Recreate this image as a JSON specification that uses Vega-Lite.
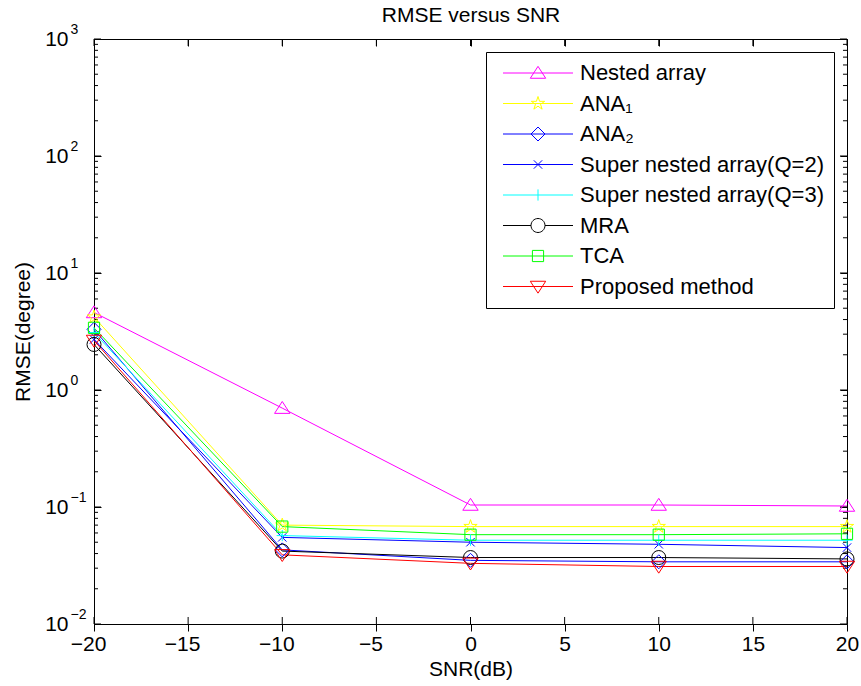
{
  "$schema": "https://vega.github.io/schema/vega-lite/v6.json",
  "width": 753,
  "height": 585,
  "autosize": {"type": "none"},
  "padding": {"left": 94, "top": 39, "right": 14, "bottom": 62},
  "background": "white",
  "config": {
    "font": "Liberation Sans",
    "view": {"stroke": "black", "strokeWidth": 1},
    "axis": {"grid": false, "domain": false, "labelColor": "black", "titleColor": "black", "labelFontSize": 21, "titleFontSize": 21, "titleFontWeight": "normal", "labelFont": "Liberation Sans", "titleFont": "Liberation Sans", "labelOverlap": false, "labelFlush": false, "minExtent": 0, "ticks": true, "tickColor": "#000000", "tickWidth": 1, "tickOpacity": 1},
    "point": {"filled": false, "size": 196, "strokeWidth": 1, "opacity": 1},
    "rule": {"color": "#000000", "strokeWidth": 1, "opacity": 1}
  },
  "datasets": {
    "xTicks": [{"v": -20}, {"v": -15}, {"v": -10}, {"v": -5}, {"v": 0}, {"v": 5}, {"v": 10}, {"v": 15}, {"v": 20}],
    "yMajor": [{"v": 0.01}, {"v": 0.1}, {"v": 1}, {"v": 10}, {"v": 100}, {"v": 1000}],
    "yMinor": [{"v": 0.02}, {"v": 0.03}, {"v": 0.04}, {"v": 0.05}, {"v": 0.06}, {"v": 0.07}, {"v": 0.08}, {"v": 0.09},
               {"v": 0.2}, {"v": 0.3}, {"v": 0.4}, {"v": 0.5}, {"v": 0.6}, {"v": 0.7}, {"v": 0.8}, {"v": 0.9},
               {"v": 2}, {"v": 3}, {"v": 4}, {"v": 5}, {"v": 6}, {"v": 7}, {"v": 8}, {"v": 9},
               {"v": 20}, {"v": 30}, {"v": 40}, {"v": 50}, {"v": 60}, {"v": 70}, {"v": 80}, {"v": 90},
               {"v": 200}, {"v": 300}, {"v": 400}, {"v": 500}, {"v": 600}, {"v": 700}, {"v": 800}, {"v": 900}]
  },
  "data": {"values": [
    {"snr": -20, "rmse": 4.6, "method": "Nested array"},
    {"snr": -10, "rmse": 0.70, "method": "Nested array"},
    {"snr": 0, "rmse": 0.104, "method": "Nested array"},
    {"snr": 10, "rmse": 0.104, "method": "Nested array"},
    {"snr": 20, "rmse": 0.102, "method": "Nested array"},
    {"snr": -20, "rmse": 4.2, "method": "ANA₁"},
    {"snr": -10, "rmse": 0.070, "method": "ANA₁"},
    {"snr": 0, "rmse": 0.068, "method": "ANA₁"},
    {"snr": 10, "rmse": 0.068, "method": "ANA₁"},
    {"snr": 20, "rmse": 0.068, "method": "ANA₁"},
    {"snr": -20, "rmse": 3.3, "method": "ANA₂"},
    {"snr": -10, "rmse": 0.043, "method": "ANA₂"},
    {"snr": 0, "rmse": 0.035, "method": "ANA₂"},
    {"snr": 10, "rmse": 0.034, "method": "ANA₂"},
    {"snr": 20, "rmse": 0.034, "method": "ANA₂"},
    {"snr": -20, "rmse": 2.7, "method": "Super nested array(Q=2)"},
    {"snr": -10, "rmse": 0.055, "method": "Super nested array(Q=2)"},
    {"snr": 0, "rmse": 0.050, "method": "Super nested array(Q=2)"},
    {"snr": 10, "rmse": 0.048, "method": "Super nested array(Q=2)"},
    {"snr": 20, "rmse": 0.045, "method": "Super nested array(Q=2)"},
    {"snr": -20, "rmse": 3.1, "method": "Super nested array(Q=3)"},
    {"snr": -10, "rmse": 0.057, "method": "Super nested array(Q=3)"},
    {"snr": 0, "rmse": 0.052, "method": "Super nested array(Q=3)"},
    {"snr": 10, "rmse": 0.052, "method": "Super nested array(Q=3)"},
    {"snr": 20, "rmse": 0.052, "method": "Super nested array(Q=3)"},
    {"snr": -20, "rmse": 2.45, "method": "MRA"},
    {"snr": -10, "rmse": 0.042, "method": "MRA"},
    {"snr": 0, "rmse": 0.037, "method": "MRA"},
    {"snr": 10, "rmse": 0.037, "method": "MRA"},
    {"snr": 20, "rmse": 0.036, "method": "MRA"},
    {"snr": -20, "rmse": 3.4, "method": "TCA"},
    {"snr": -10, "rmse": 0.068, "method": "TCA"},
    {"snr": 0, "rmse": 0.058, "method": "TCA"},
    {"snr": 10, "rmse": 0.058, "method": "TCA"},
    {"snr": 20, "rmse": 0.059, "method": "TCA"},
    {"snr": -20, "rmse": 2.65, "method": "Proposed method"},
    {"snr": -10, "rmse": 0.039, "method": "Proposed method"},
    {"snr": 0, "rmse": 0.033, "method": "Proposed method"},
    {"snr": 10, "rmse": 0.031, "method": "Proposed method"},
    {"snr": 20, "rmse": 0.031, "method": "Proposed method"}
  ]},
  "layer": [
    {
      "mark": {"type": "line", "strokeWidth": 1},
      "encoding": {
        "x": {"field": "snr", "type": "quantitative",
          "scale": {"domain": [-20, 20], "nice": false, "zero": false},
          "axis": {"orient": "bottom", "offset": 0, "values": [-20, -15, -10, -5, 0, 5, 10, 15, 20], "tickSize": 7, "labelPadding": 2, "format": "d",
            "labelOffset": {"condition": {"test": "datum.value < 0", "value": -6}, "value": 0},
            "title": "SNR(dB)", "titlePadding": 4}},
        "y": {"field": "rmse", "type": "quantitative",
          "scale": {"type": "log", "domain": [0.01, 1000], "nice": false},
          "axis": {"orient": "left", "offset": -7,
            "values": [0.01, 0.1, 1, 10, 100, 1000],
            "tickSize": 7,
            "labelExpr": "'10'",
            "labelPadding": 26,
            "title": "RMSE(degree)", "titlePadding": 11}},
        "color": {"field": "method", "type": "nominal",
          "scale": {"domain": ["Nested array", "ANA₁", "ANA₂", "Super nested array(Q=2)", "Super nested array(Q=3)", "MRA", "TCA", "Proposed method"],
                    "range": ["#FF00FF", "#FFFF00", "#0000FF", "#0000FF", "#00FFFF", "#000000", "#00FF00", "#FF0000"]},
          "legend": {"title": null, "orient": "top-right", "offset": 13, "padding": 10, "strokeColor": "black", "fillColor": "white", "cornerRadius": 0,
            "labelFontSize": 22, "labelFont": "Liberation Sans", "labelColor": "black", "labelLimit": 500,
            "symbolSize": 196, "symbolOffset": 31, "labelOffset": 31, "rowPadding": 8.5, "symbolStrokeWidth": 1, "symbolFillColor": "transparent"}}
      }
    },
    {
      "mark": {"type": "point", "opacity": 0},
      "encoding": {
        "x": {"field": "snr", "type": "quantitative",
          "scale": {"domain": [-20, 20], "nice": false, "zero": false},
          "axis": {"orient": "top", "offset": -7, "values": [-20, -15, -10, -5, 0, 5, 10, 15, 20], "tickSize": 7, "labels": false,
            "title": "RMSE versus SNR", "titlePadding": 17, "titleBaseline": "alphabetic", "titleFontSize": 21}},
        "y": {"field": "rmse", "type": "quantitative",
          "scale": {"type": "log", "domain": [0.01, 1000], "nice": false},
          "axis": {"orient": "right", "offset": -7, "values": [0.01, 0.1, 1, 10, 100, 1000], "tickSize": 7, "labels": false, "title": null}},
        "color": {"field": "method", "type": "nominal"},
        "shape": {"field": "method", "type": "nominal",
          "scale": {"domain": ["Nested array", "ANA₁", "ANA₂", "Super nested array(Q=2)", "Super nested array(Q=3)", "MRA", "TCA", "Proposed method"],
                    "range": ["M-5,0L5,0M0,-0.95L1.1,0.75L-1.1,0.75Z", "M-5,0L5,0M0,-1L0.2245,-0.309L0.951,-0.309L0.363,0.118L0.588,0.809L0,0.382L-0.588,0.809L-0.363,0.118L-0.951,-0.309L-0.2245,-0.309Z", "M-5,0L5,0M0,-1L1,0L0,1L-1,0Z", "M-5,0L5,0M-0.6,-0.6L0.6,0.6M-0.6,0.6L0.6,-0.6", "M-5,0L5,0M0,-0.8L0,0.8", "M-5,0L-1,0M1,0L5,0M1,0A1,1,0,1,1,-1,0A1,1,0,1,1,1,0Z", "M-5,0L5,0M-0.8,-0.8L0.8,-0.8L0.8,0.8L-0.8,0.8Z", "M-5,0L5,0M0,0.95L1.1,-0.75L-1.1,-0.75Z"]}}
      }
    },
    {
      "mark": {"type": "point", "opacity": 0},
      "encoding": {
        "y": {"field": "rmse", "type": "quantitative",
          "scale": {"type": "log", "domain": [0.01, 1000], "nice": false},
          "axis": {"orient": "left", "offset": -4,
            "values": [0.01, 0.1, 1, 10, 100, 1000],
            "tickSize": 4, "tickOpacity": 0,
            "labelExpr": "datum.value===0.01?'−2':datum.value===0.1?'−1':datum.value===1?'0':datum.value===10?'1':datum.value===100?'2':datum.value===1000?'3':''",
            "labelAlign": "left", "labelFontSize": 14, "labelPadding": 24, "labelOffset": -10,
            "title": null}}
      }
    },
    {"data": {"name": "xTicks"},
     "mark": {"type": "rule"},
     "encoding": {"x": {"field": "v", "type": "quantitative", "scale": {"domain": [-20, 20], "nice": false, "zero": false}, "axis": null},
                  "y": {"datum": 0.01, "type": "quantitative", "scale": {"type": "log", "domain": [0.01, 1000], "nice": false}, "axis": null},
                  "y2": {"datum": 0.01148}}},
    {"data": {"name": "xTicks"},
     "mark": {"type": "rule"},
     "encoding": {"x": {"field": "v", "type": "quantitative", "scale": {"domain": [-20, 20], "nice": false, "zero": false}, "axis": null},
                  "y": {"datum": 1000, "type": "quantitative", "scale": {"type": "log", "domain": [0.01, 1000], "nice": false}, "axis": null},
                  "y2": {"datum": 871.2}}},
    {"data": {"name": "yMajor"},
     "mark": {"type": "rule"},
     "encoding": {"y": {"field": "v", "type": "quantitative", "scale": {"type": "log", "domain": [0.01, 1000], "nice": false}, "axis": null},
                  "x": {"datum": -20, "type": "quantitative", "scale": {"domain": [-20, 20], "nice": false, "zero": false}, "axis": null},
                  "x2": {"datum": -19.628}}},
    {"data": {"name": "yMajor"},
     "mark": {"type": "rule"},
     "encoding": {"y": {"field": "v", "type": "quantitative", "scale": {"type": "log", "domain": [0.01, 1000], "nice": false}, "axis": null},
                  "x": {"datum": 20, "type": "quantitative", "scale": {"domain": [-20, 20], "nice": false, "zero": false}, "axis": null},
                  "x2": {"datum": 19.628}}},
    {"data": {"name": "yMinor"},
     "mark": {"type": "rule"},
     "encoding": {"y": {"field": "v", "type": "quantitative", "scale": {"type": "log", "domain": [0.01, 1000], "nice": false}, "axis": null},
                  "x": {"datum": -20, "type": "quantitative", "scale": {"domain": [-20, 20], "nice": false, "zero": false}, "axis": null},
                  "x2": {"datum": -19.7875}}},
    {"data": {"name": "yMinor"},
     "mark": {"type": "rule"},
     "encoding": {"y": {"field": "v", "type": "quantitative", "scale": {"type": "log", "domain": [0.01, 1000], "nice": false}, "axis": null},
                  "x": {"datum": 20, "type": "quantitative", "scale": {"domain": [-20, 20], "nice": false, "zero": false}, "axis": null},
                  "x2": {"datum": 19.7875}}},
    {"transform": [{"filter": "datum.method === 'Nested array'"}],
     "mark": {"type": "point", "shape": "M0,-0.95L1.1,0.75L-1.1,0.75Z", "color": "#FF00FF"},
     "encoding": {"x": {"field": "snr", "type": "quantitative", "scale": {"domain": [-20, 20], "nice": false, "zero": false}, "axis": null},
                  "y": {"field": "rmse", "type": "quantitative", "scale": {"type": "log", "domain": [0.01, 1000], "nice": false}, "axis": null}}},
    {"transform": [{"filter": "datum.method === 'ANA₁'"}],
     "mark": {"type": "point", "shape": "M0,-1L0.2245,-0.309L0.951,-0.309L0.363,0.118L0.588,0.809L0,0.382L-0.588,0.809L-0.363,0.118L-0.951,-0.309L-0.2245,-0.309Z", "color": "#FFFF00"},
     "encoding": {"x": {"field": "snr", "type": "quantitative", "scale": {"domain": [-20, 20], "nice": false, "zero": false}, "axis": null},
                  "y": {"field": "rmse", "type": "quantitative", "scale": {"type": "log", "domain": [0.01, 1000], "nice": false}, "axis": null}}},
    {"transform": [{"filter": "datum.method === 'ANA₂'"}],
     "mark": {"type": "point", "shape": "M0,-1L1,0L0,1L-1,0Z", "color": "#0000FF"},
     "encoding": {"x": {"field": "snr", "type": "quantitative", "scale": {"domain": [-20, 20], "nice": false, "zero": false}, "axis": null},
                  "y": {"field": "rmse", "type": "quantitative", "scale": {"type": "log", "domain": [0.01, 1000], "nice": false}, "axis": null}}},
    {"transform": [{"filter": "datum.method === 'Super nested array(Q=2)'"}],
     "mark": {"type": "point", "shape": "M-0.6,-0.6L0.6,0.6M-0.6,0.6L0.6,-0.6", "color": "#0000FF"},
     "encoding": {"x": {"field": "snr", "type": "quantitative", "scale": {"domain": [-20, 20], "nice": false, "zero": false}, "axis": null},
                  "y": {"field": "rmse", "type": "quantitative", "scale": {"type": "log", "domain": [0.01, 1000], "nice": false}, "axis": null}}},
    {"transform": [{"filter": "datum.method === 'Super nested array(Q=3)'"}],
     "mark": {"type": "point", "shape": "M-0.8,0L0.8,0M0,-0.8L0,0.8", "color": "#00FFFF"},
     "encoding": {"x": {"field": "snr", "type": "quantitative", "scale": {"domain": [-20, 20], "nice": false, "zero": false}, "axis": null},
                  "y": {"field": "rmse", "type": "quantitative", "scale": {"type": "log", "domain": [0.01, 1000], "nice": false}, "axis": null}}},
    {"transform": [{"filter": "datum.method === 'MRA'"}],
     "mark": {"type": "point", "shape": "circle", "color": "#000000"},
     "encoding": {"x": {"field": "snr", "type": "quantitative", "scale": {"domain": [-20, 20], "nice": false, "zero": false}, "axis": null},
                  "y": {"field": "rmse", "type": "quantitative", "scale": {"type": "log", "domain": [0.01, 1000], "nice": false}, "axis": null}}},
    {"transform": [{"filter": "datum.method === 'TCA'"}],
     "mark": {"type": "point", "shape": "M-0.8,-0.8L0.8,-0.8L0.8,0.8L-0.8,0.8Z", "color": "#00FF00"},
     "encoding": {"x": {"field": "snr", "type": "quantitative", "scale": {"domain": [-20, 20], "nice": false, "zero": false}, "axis": null},
                  "y": {"field": "rmse", "type": "quantitative", "scale": {"type": "log", "domain": [0.01, 1000], "nice": false}, "axis": null}}},
    {"transform": [{"filter": "datum.method === 'Proposed method'"}],
     "mark": {"type": "point", "shape": "M0,0.95L1.1,-0.75L-1.1,-0.75Z", "color": "#FF0000"},
     "encoding": {"x": {"field": "snr", "type": "quantitative", "scale": {"domain": [-20, 20], "nice": false, "zero": false}, "axis": null},
                  "y": {"field": "rmse", "type": "quantitative", "scale": {"type": "log", "domain": [0.01, 1000], "nice": false}, "axis": null}}}
  ],
  "resolve": {"scale": {"x": "independent", "y": "independent"}}
}
